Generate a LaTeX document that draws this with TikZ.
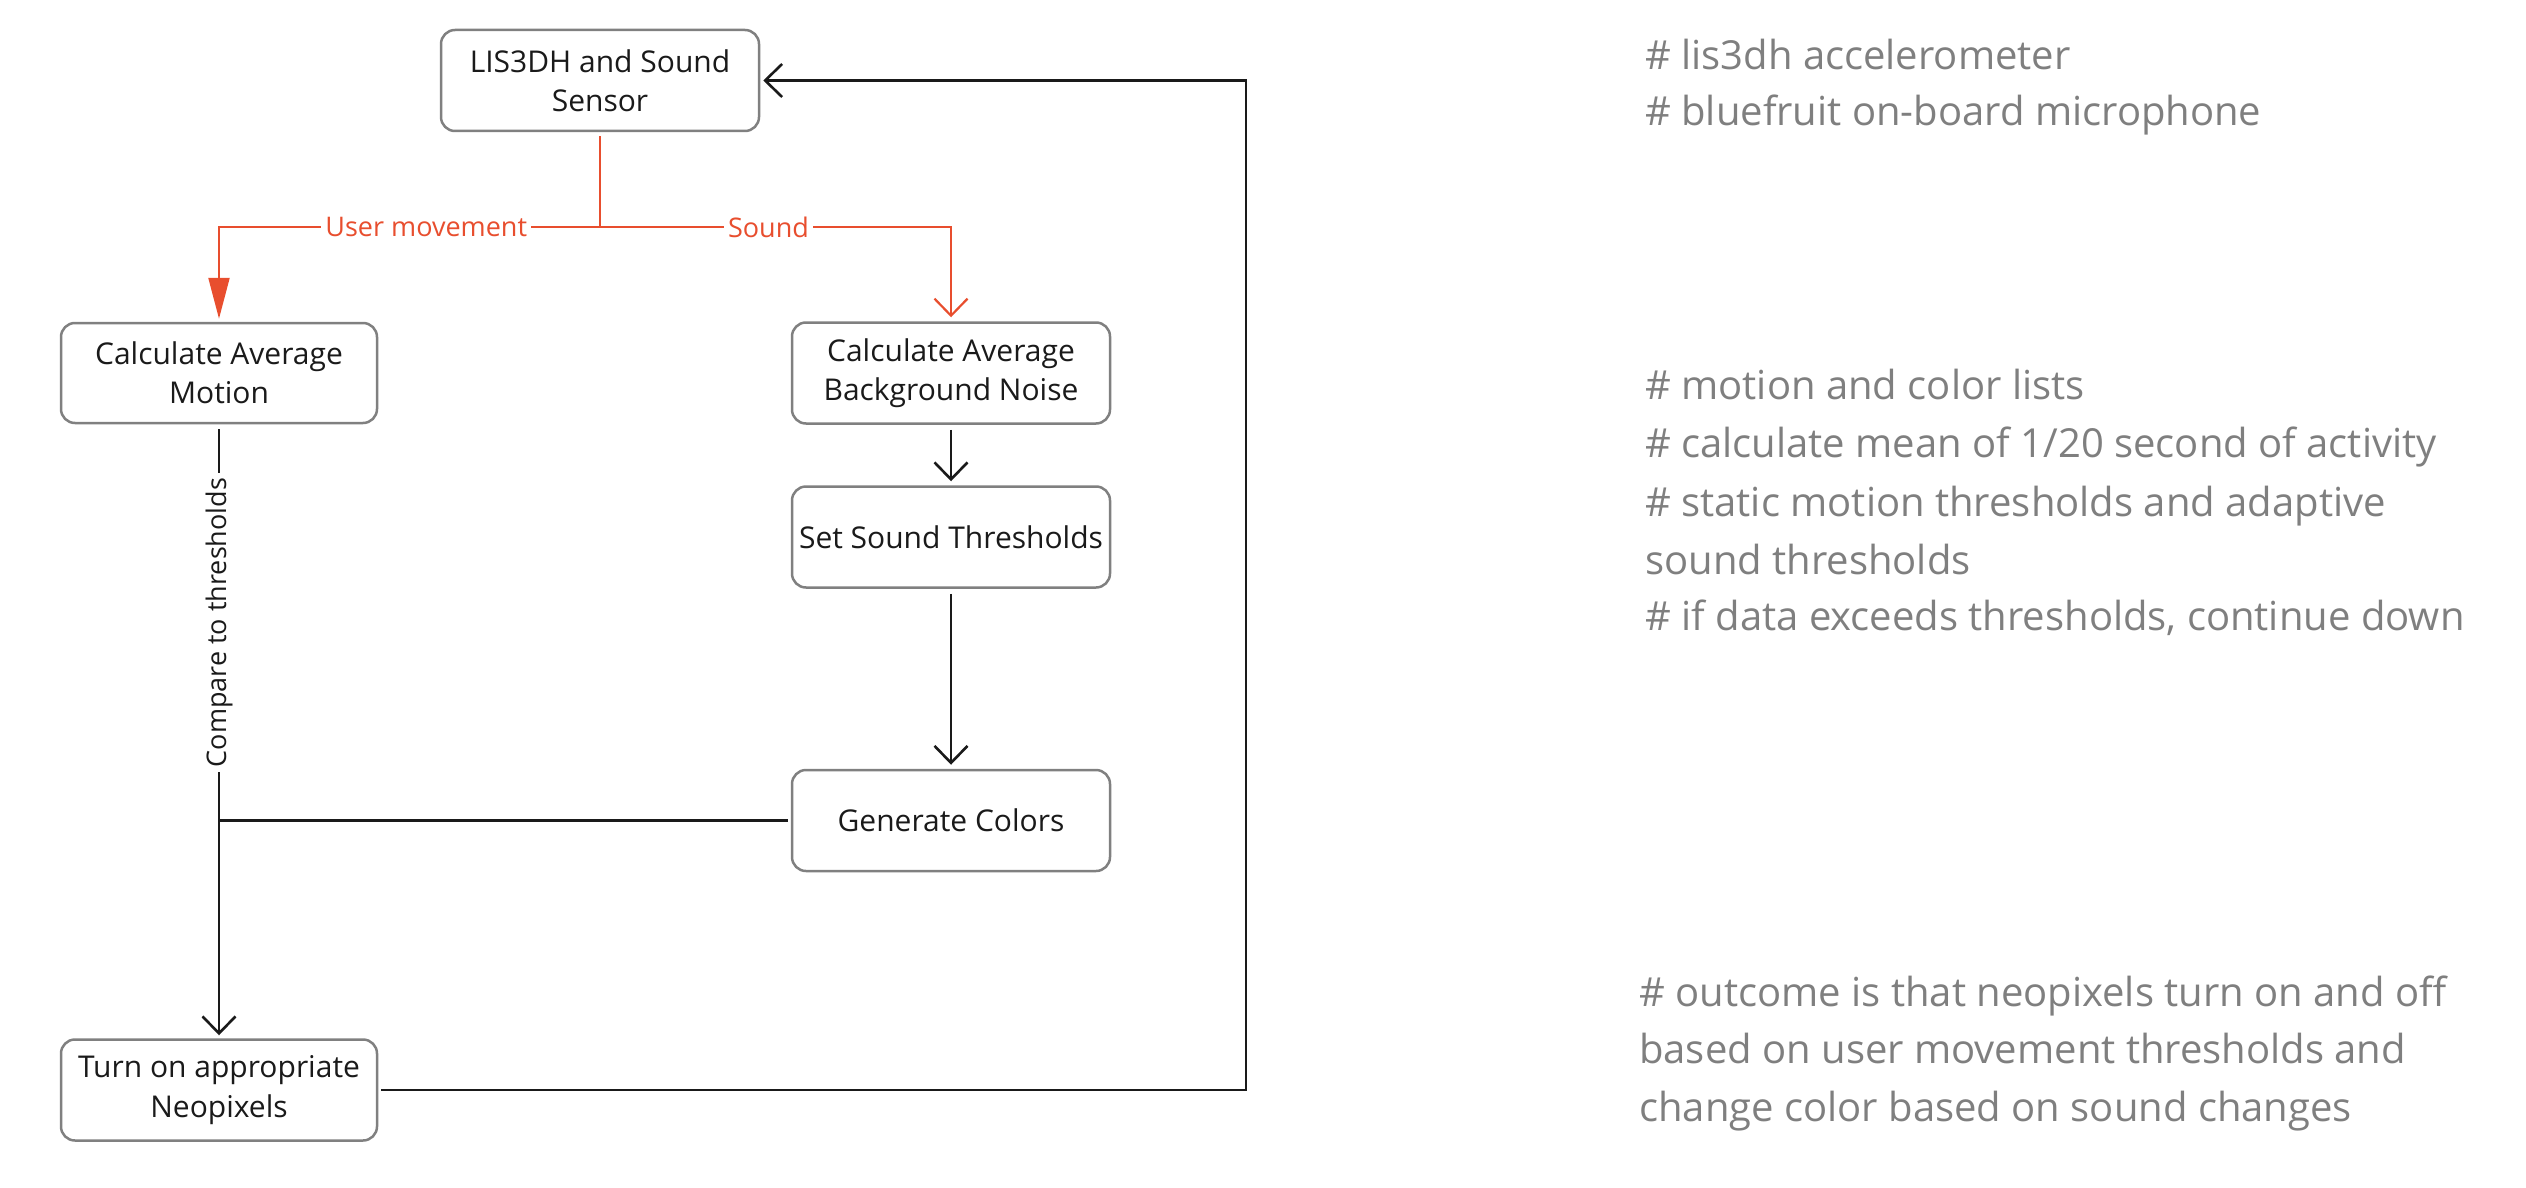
\documentclass[tikz,border=0pt]{standalone}
\usepackage{fontspec}
\setmainfont{Open Sans}
\usetikzlibrary{arrows.meta}
\definecolor{redline}{HTML}{E84E2E}
\definecolor{boxgray}{HTML}{808080}
\definecolor{notegray}{HTML}{7F7F7F}
\definecolor{ink}{HTML}{1A1A1A}
\begin{document}
\begin{tikzpicture}[x=1pt,y=-1pt,
  box/.style={draw=boxgray, line width=2.5pt, rounded corners=14pt, minimum width=318pt, minimum height=101pt, inner sep=0pt, align=center, font=\fontsize{30}{39.3}\selectfont, text=ink},
  flow/.style={draw=ink, line width=2.6pt},
  openarrow/.style={-{Straight Barb[length=17pt,width=33pt]}},
  redflow/.style={draw=redline, line width=2.2pt},
  lab/.style={font=\fontsize{27}{30}\selectfont, fill=white, inner sep=4pt},
  note/.style={anchor=base west, inner sep=0pt, text=notegray, font=\fontsize{40}{44}\selectfont}
]
\useasboundingbox (0,0) rectangle (2526,1188);

% boxes
\node[box] (sensor) at (600,80.5) {LIS3DH and Sound\\Sensor};
\node[box, minimum width=316pt, minimum height=100pt] (motion) at (219,373) {Calculate Average\\Motion};
\node[box] (noise) at (951,373) {Calculate Average\\Background Noise};
\node[box] (sst) at (951,537) {Set Sound Thresholds};
\node[box] (gen) at (951,820.5) {Generate Colors};
\node[box, minimum width=316pt] (neo) at (219,1090) {Turn on appropriate\\Neopixels};

% red split
\coordinate (split) at (600,227);
\draw[redflow, shorten <=4pt] (sensor.south) -- (split);
\draw[redflow, -{Triangle[length=41pt,width=21pt]}, shorten >=3pt] (split) -| (motion.north)
  node[lab, text=redline, pos=0.228] (umove) {User movement};
\draw[redflow, openarrow, shorten >=4pt] (split) -| (noise.north)
  node[lab, text=redline, pos=0.24] (snd) {Sound};

% black flow
\draw[flow, openarrow, shorten <=5pt, shorten >=4pt] (noise.south) -- (sst.north);
\draw[flow, openarrow, shorten <=5pt, shorten >=4pt] (sst.south) -- (gen.north);
\draw[flow, openarrow, shorten <=5pt, shorten >=3pt] (motion.south) -- (neo.north)
  node[lab, text=ink, rotate=90, pos=0.323, inner sep=5pt] (cmp) {Compare to thresholds};
\draw[flow, shorten <=3pt] (gen.west) -- (gen.west -| motion.south);
\coordinate (loop) at (1246,0);
\draw[flow, openarrow, shorten <=3pt, shorten >=3pt] (neo.east) -- (neo.east -| loop) |- (sensor.east);

% notes
\node[note] (n1) at (1645,69.5) {\# lis3dh accelerometer};
\node[note] (n2) at (1645,125.6) {\# bluefruit on-board microphone};
\node[note] (n3) at (1645,399) {\# motion and color lists};
\node[note] (n4) at (1645,457) {\# calculate mean of 1/20 second of activity};
\node[note] (n5) at (1645,516) {\# static motion thresholds and adaptive};
\node[note] (n6) at (1645,574) {sound thresholds};
\node[note] (n7) at (1645,630) {\# if data exceeds thresholds, continue down};
\node[note] (n8) at (1639,1006) {\# outcome is that neopixels turn on and off};
\node[note] (n9) at (1639,1063) {based on user movement thresholds and};
\node[note] (n10) at (1639,1121) {change color based on sound changes};
\end{tikzpicture}
\end{document}
